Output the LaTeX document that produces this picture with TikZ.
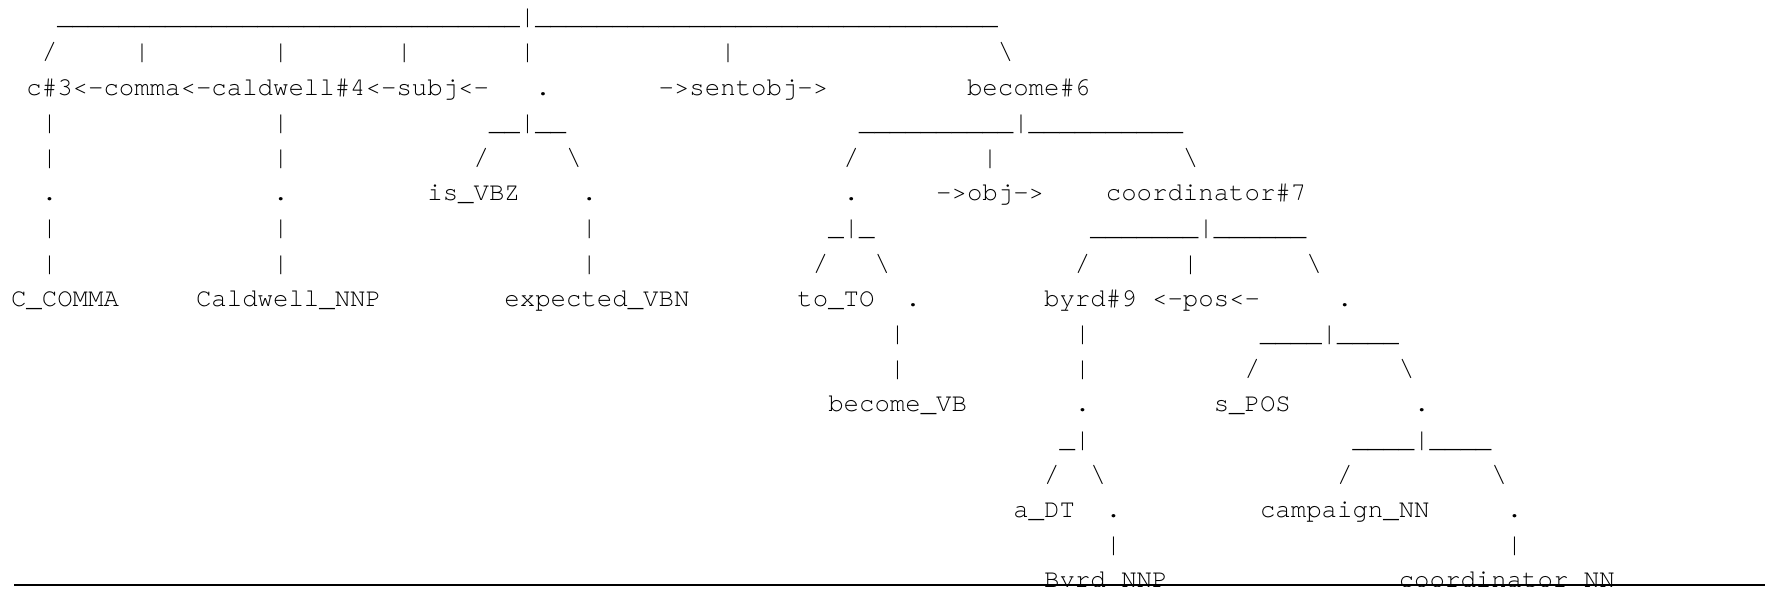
\documentclass[tikz,border=0pt]{standalone}
\usepackage{fontspec}
\newfontfamily\treefont{TeX Gyre Cursor}
\tikzset{
  tok/.style={anchor=base west, inner sep=0pt, outer sep=0pt,
    font=\fontsize{12.85pt}{15pt}\selectfont\treefont, text=black},
  rulebar/.style={line width=1pt, black}
}
\newcommand\bs{\textbackslash}
\begin{document}
\begin{tikzpicture}
\useasboundingbox (0,0) rectangle (882.5pt,-295.5pt);
\begin{scope}
\clip (0,0) rectangle (882.5pt,-293pt);
% character grid: one unit = one column / one text line
\begin{scope}[shift={(5.5pt,-12.3pt)}, x=7.71pt, y=-17.6pt]
% line 0
\node[tok] (r0) at (3,0) {\_\_\_\_\_\_\_\_\_\_\_\_\_\_\_\_\_\_\_\_\_\_\_\_\_\_\_\_\_\_|\_\_\_\_\_\_\_\_\_\_\_\_\_\_\_\_\_\_\_\_\_\_\_\_\_\_\_\_\_\_};
% line 1
\node[tok] (a1) at (2,1) {/};
\node[tok] (b1) at (8,1) {|};
\node[tok] (c1) at (17,1) {|};
\node[tok] (d1) at (25,1) {|};
\node[tok] (e1) at (33,1) {|};
\node[tok] (f1) at (46,1) {|};
\node[tok] (g1) at (64,1) {\bs};
% line 2
\node[tok] (chain) at (1,2) {c\#3<-comma<-caldwell\#4<-subj<-};
\node[tok] (dot2) at (34,2) {.};
\node[tok] (sentobj) at (42,2) {->sentobj->};
\node[tok] (become6) at (62,2) {become\#6};
% line 3
\node[tok] (a3) at (2,3) {|};
\node[tok] (b3) at (17,3) {|};
\node[tok] (c3) at (31,3) {\_\_|\_\_};
\node[tok] (d3) at (55,3) {\_\_\_\_\_\_\_\_\_\_|\_\_\_\_\_\_\_\_\_\_};
% line 4
\node[tok] (a4) at (2,4) {|};
\node[tok] (b4) at (17,4) {|};
\node[tok] (c4) at (30,4) {/};
\node[tok] (d4) at (36,4) {\bs};
\node[tok] (e4) at (54,4) {/};
\node[tok] (f4) at (63,4) {|};
\node[tok] (g4) at (76,4) {\bs};
% line 5
\node[tok] (a5) at (2,5) {.};
\node[tok] (b5) at (17,5) {.};
\node[tok] (isvbz) at (27,5) {is\_VBZ};
\node[tok] (c5) at (37,5) {.};
\node[tok] (d5) at (54,5) {.};
\node[tok] (obj) at (60,5) {->obj->};
\node[tok] (coord7) at (71,5) {coordinator\#7};
% line 6
\node[tok] (a6) at (2,6) {|};
\node[tok] (b6) at (17,6) {|};
\node[tok] (c6) at (37,6) {|};
\node[tok] (d6) at (53,6) {\_|\_};
\node[tok] (e6) at (70,6) {\_\_\_\_\_\_\_|\_\_\_\_\_\_};
% line 7
\node[tok] (a7) at (2,7) {|};
\node[tok] (b7) at (17,7) {|};
\node[tok] (c7) at (37,7) {|};
\node[tok] (d7) at (52,7) {/};
\node[tok] (e7) at (56,7) {\bs};
\node[tok] (f7) at (69,7) {/};
\node[tok] (g7) at (76,7) {|};
\node[tok] (h7) at (84,7) {\bs};
% line 8
\node[tok] (ccomma) at (0,8) {C\_COMMA};
\node[tok] (caldwell) at (12,8) {Caldwell\_NNP};
\node[tok] (expected) at (32,8) {expected\_VBN};
\node[tok] (toto) at (51,8) {to\_TO};
\node[tok] (a8) at (58,8) {.};
\node[tok] (byrd9) at (67,8) {byrd\#9};
\node[tok] (pos) at (74,8) {<-pos<-};
\node[tok] (b8) at (86,8) {.};
% line 9
\node[tok] (a9) at (57,9) {|};
\node[tok] (b9) at (69,9) {|};
\node[tok] (c9) at (81,9) {\_\_\_\_|\_\_\_\_};
% line 10
\node[tok] (a10) at (57,10) {|};
\node[tok] (b10) at (69,10) {|};
\node[tok] (c10) at (80,10) {/};
\node[tok] (d10) at (90,10) {\bs};
% line 11
\node[tok] (becomevb) at (53,11) {become\_VB};
\node[tok] (a11) at (69,11) {.};
\node[tok] (spos) at (78,11) {s\_POS};
\node[tok] (b11) at (91,11) {.};
% line 12
\node[tok] (a12) at (68,12) {\_|};
\node[tok] (b12) at (87,12) {\_\_\_\_|\_\_\_\_};
% line 13
\node[tok] (a13) at (67,13) {/};
\node[tok] (b13) at (70,13) {\bs};
\node[tok] (c13) at (86,13) {/};
\node[tok] (d13) at (96,13) {\bs};
% line 14
\node[tok] (adt) at (65,14) {a\_DT};
\node[tok] (a14) at (71,14) {.};
\node[tok] (campaign) at (81,14) {campaign\_NN};
\node[tok] (b14) at (97,14) {.};
% line 15
\node[tok] (a15) at (71,15) {|};
\node[tok] (b15) at (97,15) {|};
% line 16
\node[tok] (byrdnnp) at (67,16) {Byrd\_NNP};
\node[tok] (coordnn) at (90,16) {coordinator\_NN};
\end{scope}
\end{scope}
% horizontal rule under the tree
\coordinate (ruleL) at (7pt,-292.5pt);
\coordinate (ruleR) at (882.5pt,-292.5pt);
\draw[rulebar] (ruleL) -- (ruleR);
\end{tikzpicture}
\end{document}
